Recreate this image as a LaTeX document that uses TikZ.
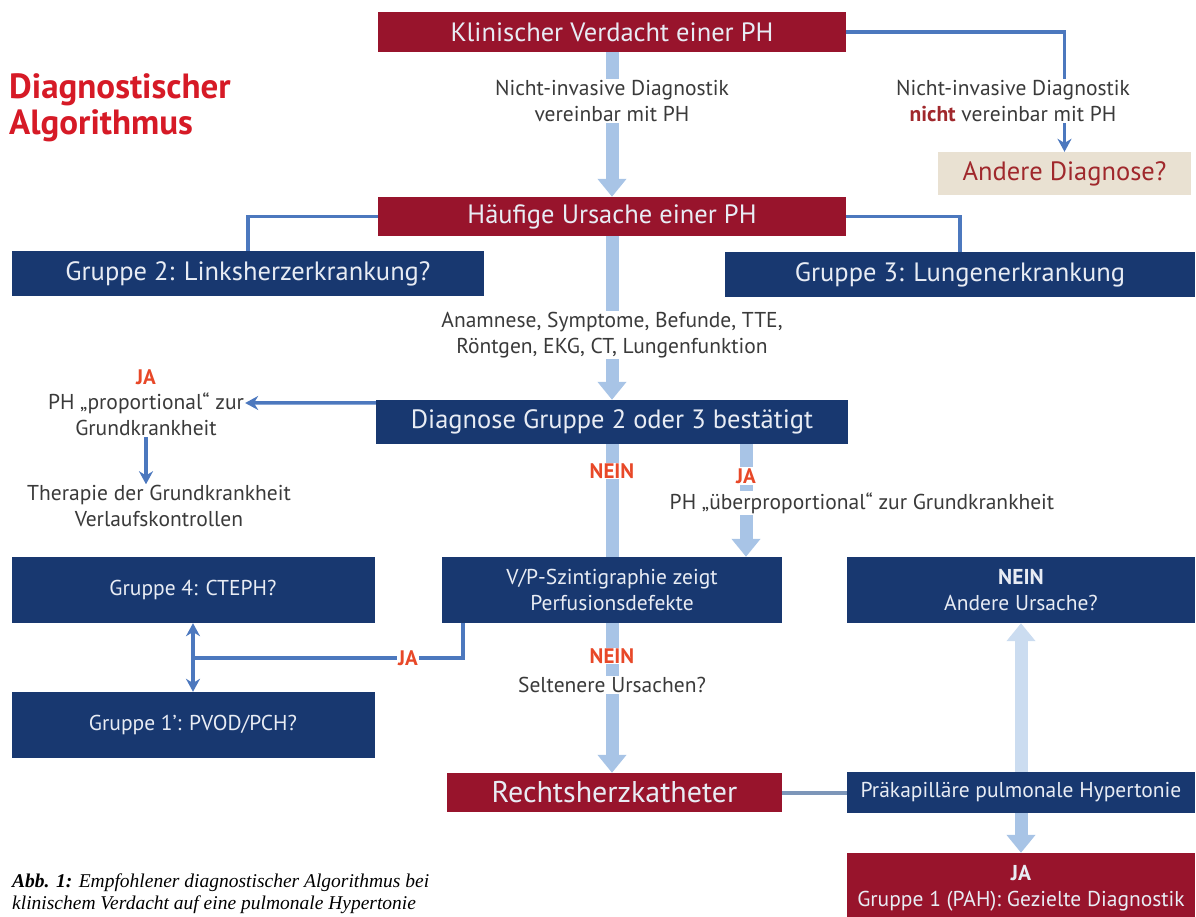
\documentclass[tikz,border=0pt]{standalone}
\usepackage{fontspec}
\setmainfont{PT Sans}
\newfontfamily\capfont{Liberation Serif}
\usepackage{tikz}
\usetikzlibrary{positioning,arrows.meta,backgrounds}
\definecolor{boxred}  {RGB}{152, 20, 44}
\definecolor{boxblue} {RGB}{ 24, 56,112}
\definecolor{boxtxt}  {RGB}{232,236,244}
\definecolor{fatcol}  {RGB}{168,196,230}
\definecolor{thincol} {RGB}{ 76,120,190}
\definecolor{linkcol} {RGB}{125,150,185}
\definecolor{labred}  {RGB}{232, 72, 40}
\definecolor{titred}  {RGB}{214, 26, 38}
\definecolor{txtgray} {RGB}{ 58, 58, 58}
\definecolor{beige}   {RGB}{233,225,210}
\definecolor{andred}  {RGB}{160, 40, 44}

\begin{document}
\begin{tikzpicture}[x=1pt,y=-1pt,
  rblk/.style={rectangle,fill=boxred,text=boxtxt,inner sep=0pt,align=center},
  bblk/.style={rectangle,fill=boxblue,text=boxtxt,inner sep=0pt,align=center},
  fbig/.style={font=\fontsize{26.5}{30}\selectfont},
  fmid/.style={font=\fontsize{21.5}{26}\selectfont},
  lbl/.style={fill=white,inner sep=1pt,text=txtgray,align=center,
              font=\fontsize{21.5}{25.5}\selectfont},
  yn/.style={fill=white,inner sep=1pt,text=labred,
             font=\bfseries\fontsize{21}{24}\selectfont},
  fat/.style={line width=13pt,fatcol,-{Triangle[width=28pt,length=18pt]}},
  tline/.style={line width=3.5pt,thincol},
  arr/.style={tline,-{Stealth[length=13pt,width=14pt]}},
  >=Stealth
]
\useasboundingbox (0,0) rectangle (1196,917);

% title and caption
\node[anchor=north west,inner sep=0pt,align=left,text=titred,
      font=\bfseries\fontsize{35}{36}\selectfont] (title) at (9,73)
  {Diagnostischer\\Algorithmus};
\node[anchor=north west,inner sep=0pt,align=left,
      font=\capfont\itshape\fontsize{19.5}{21.5}\selectfont] (capt) at (12,874)
  {\textbf{Abb. 1:} Empfohlener diagnostischer Algorithmus bei\\klinischem Verdacht auf eine pulmonale Hypertonie};

% boxes
\node[rblk,fbig,minimum width=468pt,minimum height=40pt] (klin) at (612,32)
  {Klinischer Verdacht einer PH};
\node[rblk,fbig,minimum width=468pt,minimum height=39pt] (haeuf) at (612,216.5)
  {Häufige Ursache einer PH};
\node[rectangle,fill=beige,text=andred,fbig,minimum width=253pt,minimum height=43pt]
  (andere) at (1064.5,173.5) {Andere Diagnose?};
\node[bblk,fbig,minimum width=472pt,minimum height=45pt] (grp2) at (248,273.5)
  {Gruppe 2: Linksherzerkrankung?};
\node[bblk,fbig,minimum width=470pt,minimum height=44pt] (grp3) at (960,274.5)
  {Gruppe 3: Lungenerkrankung};
\node[bblk,fbig,minimum width=472pt,minimum height=44pt] (diag) at (612,422)
  {Diagnose Gruppe 2 oder 3 bestätigt};
\node[bblk,fmid,minimum width=340pt,minimum height=66pt] (vp) at (612,590)
  {V/P-Szintigraphie zeigt\\Perfusionsdefekte};
\node[bblk,fmid,minimum width=363pt,minimum height=66pt] (grp4) at (193,590)
  {Gruppe 4: CTEPH?};
\node[bblk,fmid,minimum width=363pt,minimum height=66pt] (grp1s) at (193,725)
  {Gruppe 1': PVOD/PCH?};
\node[bblk,fmid,minimum width=348pt,minimum height=66pt] (neinu) at (1021,590)
  {\textbf{NEIN}\\Andere Ursache?};
\node[rblk,font=\fontsize{30}{34}\selectfont,minimum width=335pt,minimum height=39pt]
  (rhk) at (614.5,792.5) {Rechtsherzkatheter};
\node[bblk,fmid,minimum width=348pt,minimum height=41pt] (praek) at (1021,792.5)
  {Präkapilläre pulmonale Hypertonie};
\node[rblk,fmid,minimum width=348pt,minimum height=70pt] (jagr1) at (1021,888)
  {\textbf{JA}\\Gruppe 1 (PAH): Gezielte Diagnostik};

% labels
\node[lbl] (nicht) at (612,101) {Nicht-invasive Diagnostik\\vereinbar mit PH};
\node[lbl] (nnicht) at (1013,101)
  {Nicht-invasive Diagnostik\\\textcolor{andred}{\bfseries nicht} vereinbar mit PH};
\node[lbl] (anam) at (612,335)
  {Anamnese, Symptome, Befunde, TTE,\\Röntgen, EKG, CT, Lungenfunktion};
\node[yn] (ja1) at (146,377) {JA};
\node[lbl] (prop) at (146,403) {PH „proportional“ zur};
\node[lbl] (grund) at (146,428) {Grundkrankheit};
\node[lbl] (ther) at (159,506) {Therapie der Grundkrankheit\\Verlaufskontrollen};
\node[yn] (nein1) at (612,471) {NEIN};
\node[yn] (ja2) at (746,476) {JA};
\node[lbl] (ueber) at (862,503) {PH „überproportional“ zur Grundkrankheit};
\node[yn] (ja3) at (408,658) {JA};
\node[yn] (nein2) at (612,656) {NEIN};
\node[lbl] (selt) at (612,685) {Seltenere Ursachen?};

% connectors
\begin{scope}[on background layer]
\draw[fat] (klin) -- (haeuf);
\draw[fat] (haeuf) -- (diag);
\draw[fat,-] (diag) -- (vp);
\draw[fat] ([xshift=134pt]diag.south) -- ([xshift=134pt]vp.north);
\draw[fat] (vp.south) -- (vp.south |- rhk.north);
\draw[fat,fatcol!60] (praek) -- (neinu);
\draw[fat] (praek) -- (jagr1);
\draw[arr] (klin.east) -| (andere.north);
\draw[tline] (haeuf.west) -| (grp2.north);
\draw[tline] (haeuf.east) -| (grp3.north);
\draw[arr] ([yshift=-3pt]diag.north west) -- (prop.east);
\draw[arr] (grund.south) -- (grund.south |- ther.north);
\coordinate (jmeet) at (193,658);
\draw[tline] ([xshift=-149pt]vp.south) |- (jmeet);
\draw[tline,{Stealth[length=13pt,width=14pt]}-{Stealth[length=13pt,width=14pt]}]
  (grp4) -- (grp1s);
\draw[line width=4pt,linkcol] (rhk) -- (praek);
\end{scope}
\end{tikzpicture}
\end{document}
